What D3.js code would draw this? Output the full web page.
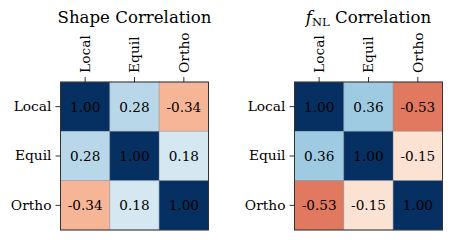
<!DOCTYPE html>
<html>
<head>
<meta charset="utf-8">
<script src="https://cdn.jsdelivr.net/npm/d3@7"></script>
<style>
  body { margin: 0; background: #fff; }
  svg text { font-family: "DejaVu Serif", serif; }
  .axis path { display: none; }
  .axis line { stroke: #000; stroke-width: 0.8; }
  .axis text { font-size: 13.8px; fill: #000; }
</style>
</head>
<body>
<div id="chart"></div>
<script>
const labels = ["Local", "Equil", "Ortho"];
const shapeCorr = [
  [1.00, 0.28, -0.34],
  [0.28, 1.00, 0.18],
  [-0.34, 0.18, 1.00]
];
const fnlCorr = [
  [1.00, 0.36, -0.53],
  [0.36, 1.00, -0.15],
  [-0.53, -0.15, 1.00]
];

var width = 452, height = 240;
var cellTop = 82, size = 148;

var svg = d3.select("#chart").append("svg")
    .attr("width", width)
    .attr("height", height);

// matplotlib style RdBu: piecewise linear between the 11 brewer colours
var rdbu = d3.schemeRdBu[11];
var color = d3.scaleLinear()
    .domain(d3.range(11).map(i => -1 + i * 0.2))
    .range(rdbu)
    .interpolate(d3.interpolateRgb);

function drawPanel(left, data, titleFn) {
    var x = d3.scaleBand().domain(labels).range([0, size]);
    var y = d3.scaleBand().domain(labels).range([0, size]);

    var g = svg.append("g").attr("transform", `translate(${left},${cellTop})`);

    var cells = [];
    data.forEach((row, i) => row.forEach((v, j) => cells.push({ r: labels[i], c: labels[j], v: v })));

    g.selectAll("rect.cell").data(cells).enter().append("rect")
        .attr("class", "cell")
        .attr("x", d => x(d.c))
        .attr("y", d => y(d.r))
        .attr("width", x.bandwidth())
        .attr("height", y.bandwidth())
        .attr("fill", d => color(d.v))
        .attr("stroke", "rgba(120,130,140,0.45)")
        .attr("stroke-width", 0.8);

    g.selectAll("text.val").data(cells).enter().append("text")
        .attr("class", "val")
        .attr("x", d => x(d.c) + x.bandwidth() / 2)
        .attr("y", d => y(d.r) + y.bandwidth() / 2)
        .attr("text-anchor", "middle")
        .attr("dominant-baseline", "central")
        .attr("font-size", "13.6px")
        .attr("fill", "#000")
        .text(d => d.v.toFixed(2));

    g.append("rect")
        .attr("width", size)
        .attr("height", size)
        .attr("fill", "none")
        .attr("stroke", "#333")
        .attr("stroke-width", 1);

    g.append("g").attr("class", "axis")
        .call(d3.axisLeft(y).tickSize(5).tickPadding(4));

    var xa = g.append("g").attr("class", "axis")
        .call(d3.axisTop(x).tickSize(5).tickPadding(4));
    xa.selectAll("text")
        .attr("transform", "rotate(-90)")
        .attr("text-anchor", "start")
        .attr("x", 9)
        .attr("y", 0)
        .attr("dy", "0.35em");

    var t = svg.append("text")
        .attr("x", left + size / 2)
        .attr("y", 23)
        .attr("text-anchor", "middle")
        .attr("font-size", "16.6px")
        .attr("fill", "#000");
    titleFn(t);
}

drawPanel(60.5, shapeCorr, t => t.text("Shape Correlation"));
drawPanel(294.5, fnlCorr, t => {
    t.append("tspan").attr("font-style", "italic").text("f");
    t.append("tspan").attr("font-size", "11.5px").attr("dy", 3).text("NL");
    t.append("tspan").attr("dy", -3).text(" Correlation");
});
</script>
</body>
</html>
